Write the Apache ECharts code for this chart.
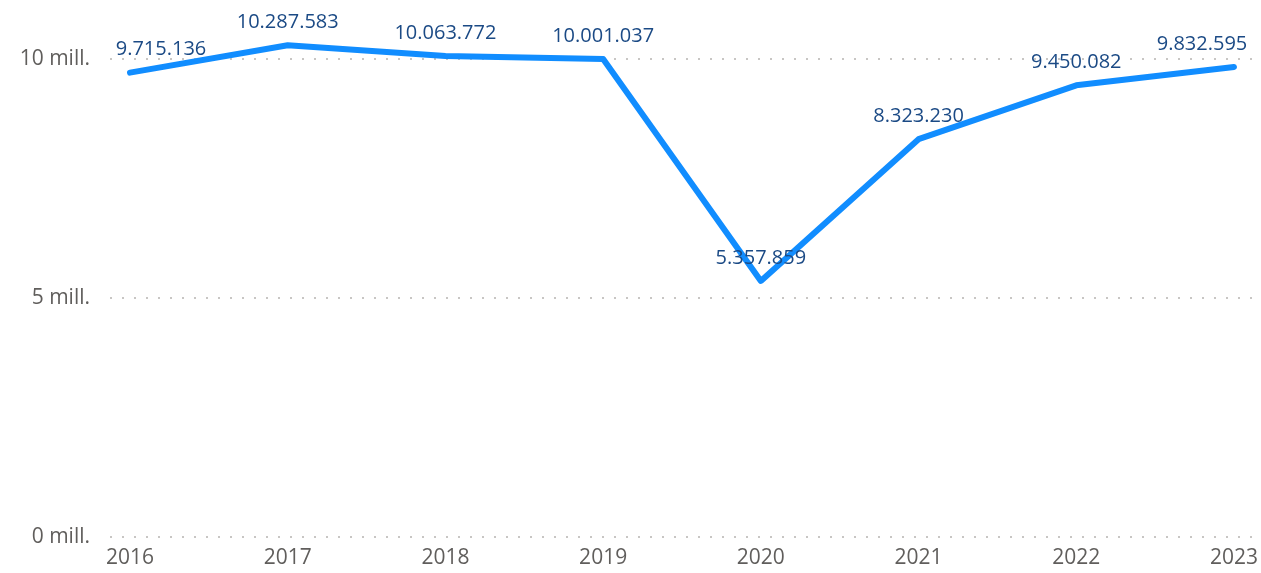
<!DOCTYPE html>
<html>
<head>
<meta charset="utf-8">
<style>
  html, body { margin: 0; padding: 0; background: #fff; }
  #main { width: 1261px; height: 573px; }
</style>
<script src="https://cdn.jsdelivr.net/npm/echarts@6/dist/echarts.min.js"></script>
</head>
<body>
<div id="main"></div>
<script>
// år og verdier
var years = ['2016', '2017', '2018', '2019', '2020', '2021', '2022', '2023'];
var values = [9715136, 10287583, 10063772, 10001037, 5357859, 8323230, 9450082, 9832595];
var yTicks = [0, 5000000, 10000000];

function fmtDots(n) {
  return String(Math.round(n)).replace(/\B(?=(\d{3})+(?!\d))/g, '.');
}

var font = '"Open Sans", "Noto Sans", sans-serif';
var myChart = echarts.init(document.getElementById('main'));

// first/last labels are pushed inward like the original
var seriesData = values.map(function (v, i) {
  var item = { value: v };
  if (i === 0) item.label = { offset: [31, 0] };
  if (i === values.length - 1) item.label = { offset: [-32, 0] };
  return item;
});

myChart.setOption({
  animation: false,
  grid: [
    { left: 110, right: 9, top: 59, bottom: 36 },
    { left: 130, right: 26, top: 59, bottom: 36 }
  ],
  xAxis: [
    { gridIndex: 0, type: 'category', data: years, show: false },
    {
      gridIndex: 1,
      type: 'category',
      data: years,
      boundaryGap: false,
      axisLine: { show: false },
      axisTick: { show: false },
      axisLabel: { color: '#605E5C', fontFamily: font, fontSize: 21, margin: 11 }
    }
  ],
  yAxis: [
    {
      gridIndex: 0,
      type: 'value',
      min: yTicks[0],
      max: yTicks[2],
      interval: 5000000,
      axisLine: { show: false },
      axisTick: { show: false },
      axisLabel: {
        color: '#605E5C',
        fontFamily: font,
        fontSize: 21,
        margin: 20,
        formatter: function (v) { return (v / 1000000) + ' mill.'; }
      },
      splitLine: { lineStyle: { color: '#C8C6C4', width: 2, type: [2, 10] } }
    },
    {
      gridIndex: 1,
      type: 'value',
      min: yTicks[0],
      max: yTicks[2],
      show: false,
      splitLine: { show: false }
    }
  ],
  series: [{
    type: 'line',
    xAxisIndex: 1,
    yAxisIndex: 1,
    data: seriesData,
    clip: false,
    symbol: 'circle',
    showSymbol: true,
    symbolSize: 0,
    itemStyle: { color: '#118DFF' },
    lineStyle: { color: '#118DFF', width: 6, cap: 'round', join: 'round' },
    label: {
      show: true,
      position: 'top',
      distance: 13,
      color: '#1B4A85',
      fontFamily: font,
      fontSize: 20,
      formatter: function (p) { return fmtDots(p.value); }
    }
  }]
});
</script>
</body>
</html>
